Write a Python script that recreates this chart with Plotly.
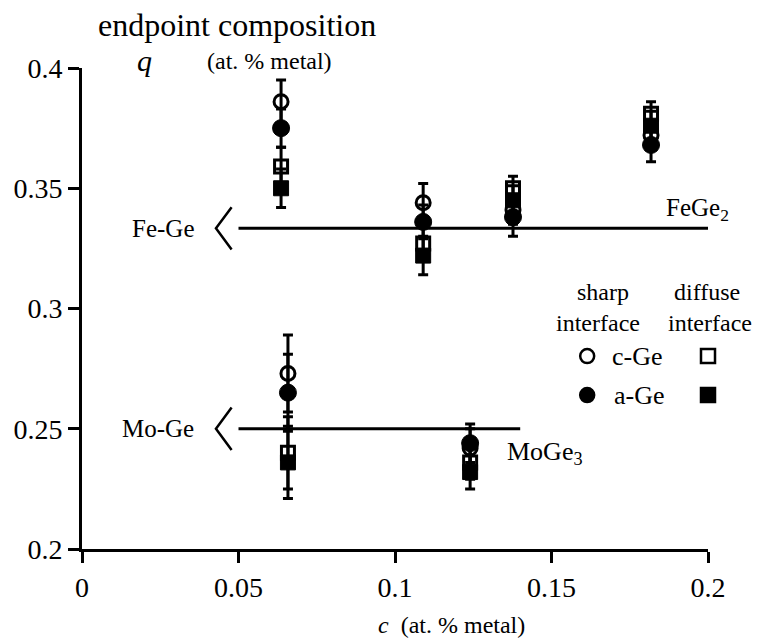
import plotly.graph_objects as go

# Metal concentration c of each film series (at. % metal)
fe_c = [0.0636, 0.109, 0.1377, 0.1818]
mo_c = [0.0658, 0.124]

# Endpoint composition q, Fe-Ge films
fe_sharp_cge = [0.386, 0.344, 0.341, 0.372]
fe_sharp_age = [0.375, 0.336, 0.338, 0.368]
fe_diff_cge = [0.359, 0.327, 0.350, 0.381]
fe_diff_age = [0.350, 0.322, 0.345, 0.376]
fe_err_sharp_cge = [0.009, 0.008, 0.006, 0.006]
fe_err_sharp_age = [0.008, 0.007, 0.008, 0.007]
fe_err_diff_cge = [0.008, 0.007, 0.005, 0.005]
fe_err_diff_age = [0.008, 0.008, 0.006, 0.006]

# Endpoint composition q, Mo-Ge films
mo_sharp_cge = [0.273, 0.242]
mo_sharp_age = [0.265, 0.244]
mo_diff_cge = [0.240, 0.236]
mo_diff_age = [0.236, 0.232]
mo_err_sharp_cge = [0.016, 0.008]
mo_err_sharp_age = [0.016, 0.008]
mo_err_diff_cge = [0.015, 0.007]
mo_err_diff_age = [0.015, 0.007]

# Stoichiometric compound lines: (level, c start, c end)
fege2_line = (1 / 3, 0.05, 0.2)
moge3_line = (0.25, 0.05, 0.14)

FONT = "Liberation Serif"
BLACK = "black"

fig = go.Figure()


def add_series(xs, ys, errs, symbol, size, lw):
    fig.add_trace(go.Scatter(
        x=xs, y=ys, mode="markers",
        marker=dict(symbol=symbol, size=size, color=BLACK,
                    line=dict(color=BLACK, width=lw)),
        error_y=dict(type="data", array=errs, visible=True,
                     color=BLACK, thickness=3, width=5),
        showlegend=False, hoverinfo="x+y",
    ))


# reference lines with the chevron pointing to the label
for level, c0, c1 in (fege2_line, moge3_line):
    fig.add_trace(go.Scatter(x=[c0, c1], y=[level, level], mode="lines",
                             line=dict(color=BLACK, width=3),
                             showlegend=False, hoverinfo="skip"))
    fig.add_trace(go.Scatter(x=[c0 - 0.0022, c0 - 0.0072, c0 - 0.0022],
                             y=[level + 0.0088, level, level - 0.0088],
                             mode="lines", line=dict(color=BLACK, width=2.5),
                             showlegend=False, hoverinfo="skip"))

for xs, groups in (
    (fe_c, [(fe_diff_age, fe_err_diff_age, "square", 15, 1),
            (fe_diff_cge, fe_err_diff_cge, "square-open", 13, 3),
            (fe_sharp_age, fe_err_sharp_age, "circle", 17, 1),
            (fe_sharp_cge, fe_err_sharp_cge, "circle-open", 14, 3)]),
    (mo_c, [(mo_diff_age, mo_err_diff_age, "square", 15, 1),
            (mo_diff_cge, mo_err_diff_cge, "square-open", 13, 3),
            (mo_sharp_age, mo_err_sharp_age, "circle", 17, 1),
            (mo_sharp_cge, mo_err_sharp_cge, "circle-open", 14, 3)]),
):
    for ys, errs, sym, size, lw in groups:
        add_series(xs, ys, errs, sym, size, lw)

ann = []


def text(x, y, s, size, xanchor="center", yanchor="middle",
         xref="paper", yref="paper", yshift=0):
    ann.append(dict(x=x, y=y, xref=xref, yref=yref, text=s, showarrow=False,
                    xanchor=xanchor, yanchor=yanchor, yshift=yshift,
                    font=dict(family=FONT, size=size, color=BLACK)))


# titles
text(0.022, 1.09, "endpoint composition", 32, xanchor="left")
text(0.1, 1.016, "<i>q</i>", 30)
text(0.196, 1.014, "(at. % metal)", 24, xanchor="left")
text(0.59, -0.158, "<i>c</i>  (at. % metal)", 24)

# line labels
text(0.182, fege2_line[0], "Fe-Ge", 25, xanchor="right", yref="y")
text(0.182, moge3_line[0], "Mo-Ge", 25, xanchor="right", yref="y")
text(0.983, fege2_line[0], "FeGe<sub>2</sub>", 25, yref="y", yshift=19)
text(0.675, moge3_line[0], "MoGe<sub>3</sub>", 26, xanchor="left",
     yref="y", yshift=-24)

# key
text(0.832, 0.534, "sharp", 24)
text(0.824, 0.470, "interface", 24)
text(0.998, 0.534, "diffuse", 24)
text(1.003, 0.470, "interface", 24)
text(0.888, 0.401, "c-Ge", 26)
text(0.890, 0.320, "a-Ge", 26)

shapes = []
for yp, fill in ((0.401, "white"), (0.320, BLACK)):
    shapes.append(dict(type="circle", xref="paper", yref="paper",
                       xsizemode="pixel", ysizemode="pixel",
                       xanchor=0.807, yanchor=yp, x0=-7, x1=7, y0=-7, y1=7,
                       line=dict(color=BLACK, width=2.5), fillcolor=fill))
    shapes.append(dict(type="rect", xref="paper", yref="paper",
                       xsizemode="pixel", ysizemode="pixel",
                       xanchor=1.0, yanchor=yp, x0=-7, x1=7, y0=-7, y1=7,
                       line=dict(color=BLACK, width=2.5), fillcolor=fill))

axis_common = dict(showline=True, linecolor=BLACK, linewidth=3,
                   ticks="outside", ticklen=11, tickwidth=3, tickcolor=BLACK,
                   showgrid=False, zeroline=False,
                   tickfont=dict(family=FONT, size=28, color=BLACK))

fig.update_layout(
    width=766, height=641,
    margin=dict(l=82, r=58, t=68, b=92),
    font=dict(family=FONT, color=BLACK),
    paper_bgcolor="white", plot_bgcolor="white",
    xaxis=dict(range=[0, 0.2], tickvals=[0, 0.05, 0.1, 0.15, 0.2],
               ticktext=["0", "0.05", "0.1", "0.15", "0.2"], **axis_common),
    yaxis=dict(range=[0.2, 0.4], tickvals=[0.2, 0.25, 0.3, 0.35, 0.4],
               ticktext=["0.2", "0.25", "0.3", "0.35", "0.4"], **axis_common),
    annotations=ann, shapes=shapes, showlegend=False,
)

fig.write_html("out.html")
